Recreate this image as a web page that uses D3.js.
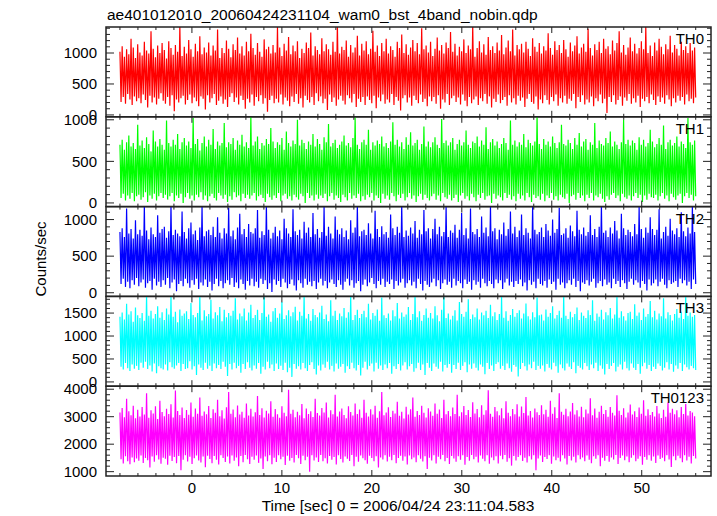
<!DOCTYPE html>
<html><head><meta charset="utf-8">
<script src="https://cdn.jsdelivr.net/npm/d3@7"></script>
<style>body{margin:0;background:#fff}svg{display:block}text{font-family:"Liberation Sans",Arial,Helvetica,sans-serif;fill:#000}</style>
</head><body><svg id="c" width="717" height="516"></svg>
<script>
const title = "ae401012010_20060424231104_wam0_bst_4band_nobin.qdp";
const xLabel = "Time [sec] 0 = 2006/04/24 23:11:04.583";
const yLabel = "Counts/sec";
const bands = ["TH0","TH1","TH2","TH3","TH0123"];
const colors = ["#ff0000","#00ff00","#0000ff","#00ffff","#ff00ff"];
const tStart = -8.0, tEnd = 56.0;

const TH0 = [1020,210,1110,290,940,180,1060,340,980,250,1230,160,1090,300,920,220,1140,270,1010,190,
960,330,1180,240,1040,120,990,310,1350,200,1070,280,930,170,1120,260,1000,350,1160,230,
1050,180,910,290,1190,150,1080,320,970,60,1130,250,1020,200,1440,270,950,310,1100,170,
990,240,1210,330,1060,190,940,280,1150,220,1030,140,1270,300,980,260,1090,90,1010,320,
1170,200,960,270,1120,340,1040,160,1380,230,920,300,1080,180,1000,250,1200,130,1070,290,
930,350,1140,210,1050,280,1250,170,990,310,1110,240,960,100,1180,260,1030,200,1310,330,
1080,150,970,290,1160,220,1020,320,940,180,1220,270,1060,50,1100,240,990,310,1130,190,
1010,260,1420,200,1090,330,950,170,1150,280,1040,230,1260,140,980,300,1120,210,1030,340,
1190,180,920,270,1070,120,1000,310,1170,240,1080,200,1330,290,960,160,1110,350,1050,220,
980,300,1240,190,1030,260,1140,80,1060,330,970,210,1180,280,1020,150,1470,250,990,310,
1100,230,1050,170,1200,320,940,270,1130,200,1010,340,1090,130,1280,260,960,210,1150,290,
1040,160,1190,300,980,240,1070,190,1360,310,1020,110,1120,280,950,220,1160,330,1030,180,
1230,250,990,200,1110,340,1050,160,940,290,1180,230,1080,70,1300,270,1000,320,1140,200,
970,280,1090,150,1210,310,1030,240,1160,190,980,330,1400,210,1060,260,1120,140,1010,300,
1180,220,950,290,1070,180,1250,320,1040,100,1130,250,990,200,1170,340,1080,160,1340,270,
1020,310,1150,210,960,280,1100,170,1030,330,1220,230,1000,140,1120,290,1060,190,1450,250,
940,300,1080,160,1190,270,1010,220,1140,340,970,180,1260,300,1050,120,1110,260,1000,210,
1170,330,1040,190,1290,240,980,290,1090,150,1200,320,1030,200,1380,270,960,170,1130,310,
1060,230,1150,280,1010,130,1180,260,1070,340,950,210,1240,180,1100,300,1020,90,1160,250,
990,190,1110,320,1040,240,1320,170,1080,290,970,220,1190,330,1050,150,1130,270,1000,200,
1210,310,1060,180,940,260,1170,230,1030,340,1120,110,1270,290,990,210,1090,320,1150,170,
1020,250,1390,200,1080,300,960,140,1140,270,1050,220,1180,330,1000,190,1230,260,1070,30,
1110,290,980,210,1200,320,1040,170,1160,240,1350,300,1010,150,1130,280,970,230,1090,340,
1250,180,1030,270,1150,200,990,310,1080,130,1190,260,1060,220,1430,290,1000,190,1120,330,
950,240,1170,160,1040,300,1230,210,1100,280,980,180,1140,320,1060,250,1280,140,1010,270,
1130,200,1070,310,960,230,1180,290,1050,170,1110,330,1000,220,1160,260,1040,190,1090,280];

const TH1 = [700,60,760,110,640,30,730,90,810,50,680,120,720,20,650,80,940,100,690,40,
750,70,660,130,790,10,710,90,620,50,870,110,740,30,680,80,770,120,700,60,
640,100,990,40,720,80,680,120,760,20,700,90,830,60,650,110,730,0,780,70,
690,120,740,50,660,90,1020,30,710,100,770,70,630,130,720,40,800,90,680,20,
760,80,700,110,890,60,650,30,740,120,690,90,720,50,960,100,670,10,730,80,
710,40,780,130,640,70,750,90,700,20,820,110,680,60,730,100,660,50,1040,90,
690,120,740,30,800,80,650,100,720,60,690,10,770,110,710,70,900,40,740,90,
660,60,730,120,700,20,780,90,640,110,860,50,720,80,680,30,750,100,710,70,
1000,40,690,110,760,80,720,0,650,120,740,60,700,90,830,30,680,100,770,50,
710,90,640,60,790,110,730,20,950,80,680,120,720,40,760,90,660,60,700,10,
740,100,810,70,690,30,720,120,670,50,780,90,1030,60,700,110,650,20,730,80,
760,40,700,100,880,70,640,120,730,30,690,90,750,60,710,0,800,110,680,50,
720,90,660,40,740,120,970,80,700,20,760,100,680,60,730,110,650,30,790,70,
700,120,850,50,690,90,720,10,760,80,640,110,710,40,920,100,680,60,740,30,
670,80,730,110,790,40,700,90,660,20,1010,120,720,70,750,50,690,100,730,30,
780,60,640,100,710,10,760,90,690,120,730,50,870,80,700,30,660,110,740,70,
720,20,800,100,680,60,750,120,700,40,910,80,650,90,730,0,770,110,690,50,
740,90,660,70,710,30,780,120,720,60,640,100,990,40,700,80,750,20,680,110,
730,50,700,90,830,30,670,120,760,70,720,10,690,100,740,60,1050,80,710,40,
650,110,770,20,700,90,740,60,680,120,800,40,720,80,660,30,730,100,940,70,
710,50,690,110,760,0,720,80,650,100,780,40,700,120,840,60,680,90,740,20,
770,100,640,60,730,120,700,30,960,90,660,70,750,110,710,50,690,10,780,80,
720,40,860,100,680,120,740,60,700,90,650,20,730,110,1000,70,710,50,760,90,
690,30,750,80,720,120,640,60,790,100,700,10,760,90,680,40,720,110,880,70,
740,60,670,100,710,30,780,80,700,120,930,50,650,90,730,20,760,110,690,70,
720,40,800,90,680,110,740,0,710,80,660,120,1020,60,730,100,700,30,750,80];

const TH2 = [830,120,880,190,760,80,1150,150,810,60,870,170,740,110,990,200,800,90,860,140,
780,180,1190,70,850,130,730,160,890,40,800,190,760,100,1060,150,820,80,870,170,
900,110,750,200,840,60,1200,140,790,180,860,20,810,120,770,160,1110,90,830,190,
740,130,880,70,960,170,800,110,850,190,720,50,890,140,1180,100,770,180,840,80,
860,150,790,30,900,120,760,190,1030,90,820,160,740,60,880,130,810,170,1160,110,
770,200,850,80,730,140,890,60,1080,180,800,120,870,40,760,160,940,100,830,190,
810,90,880,150,1130,70,750,190,840,120,790,170,1200,50,860,130,740,10,820,180,
900,110,770,160,850,80,730,190,1010,140,880,60,810,120,760,180,1140,100,840,30,
790,170,860,130,740,70,970,190,820,110,890,150,760,90,1090,160,800,50,870,140,
750,190,830,100,1170,160,780,60,900,140,810,180,740,120,1040,80,860,170,800,110,
880,40,760,150,850,190,730,100,990,170,820,70,890,130,1190,160,770,20,840,110,
860,180,790,90,950,140,810,200,740,120,1120,60,870,160,760,110,910,190,800,80,
830,150,750,120,1070,180,880,50,790,160,900,100,820,140,1200,190,760,70,850,130,
780,170,890,100,810,150,980,60,750,190,860,120,800,30,1130,160,840,110,880,80,
740,140,870,190,1010,90,800,170,900,50,770,130,830,180,1180,110,760,150,850,70,
820,190,930,100,750,160,860,130,1090,60,790,180,880,120,740,150,1150,40,830,170,
800,110,870,150,760,70,1040,190,820,130,890,90,770,160,1180,120,840,60,880,180,
730,130,860,170,800,50,960,140,780,190,870,100,1110,150,810,80,900,160,760,120,
850,180,1070,90,790,140,880,30,820,170,740,110,1190,150,860,60,800,190,830,120,
890,100,760,160,940,70,850,180,780,120,1000,150,820,40,870,190,1160,110,790,140,
810,60,880,130,750,170,920,110,840,190,770,80,1120,160,860,20,800,140,890,120,
780,170,830,100,1060,150,790,190,870,70,760,130,900,160,1200,90,820,180,850,110,
760,140,890,60,810,190,980,120,850,160,740,80,1080,170,880,130,790,50,860,150,
830,190,770,110,940,170,800,140,1170,70,870,160,750,120,890,30,820,180,1030,100,
870,130,790,180,860,90,1140,150,740,190,830,110,900,60,780,170,1010,120,850,140,
800,160,880,80,760,190,1100,130,840,170,770,100,890,150,810,50,1190,180,830,120];

const TH3 = [1420,330,1510,270,1360,410,1700,300,1470,240,1540,380,1310,290,1620,350,1450,260,1390,420,
1500,310,1330,440,1880,280,1440,360,1550,230,1380,400,1480,190,1650,340,1400,300,1520,270,
1350,380,1600,250,1470,430,1850,320,1420,290,1530,360,1300,410,1580,240,1440,390,1490,280,
1540,300,1370,450,1720,270,1460,340,1410,150,1500,380,1900,310,1340,260,1560,420,1430,290,
1480,350,1790,240,1380,400,1520,300,1450,370,1630,280,1320,440,1570,330,1410,130,1500,390,
1440,270,1550,420,1820,300,1360,350,1490,200,1430,390,1600,280,1340,430,1510,310,1680,250,
1390,360,1460,290,1570,410,1350,180,1500,330,1870,270,1420,440,1470,300,1310,380,1540,240,
1610,400,1400,280,1490,350,1740,260,1370,420,1450,210,1560,310,1430,110,1520,390,1640,290,
1340,340,1530,270,1440,410,1900,300,1380,240,1480,370,1330,430,1590,280,1460,160,1410,360,
1510,250,1660,380,1370,310,1470,440,1320,270,1780,350,1440,230,1550,400,1350,290,1490,330,
1430,390,1610,200,1400,340,1520,280,1860,420,1350,300,1460,250,1570,370,1390,140,1480,310,
1550,440,1410,270,1700,350,1360,400,1500,230,1440,420,1580,290,1330,360,1840,260,1450,380,
1390,300,1490,410,1340,180,1560,340,1430,280,1720,390,1380,250,1510,360,1420,430,1470,270,
1630,340,1350,390,1480,220,1900,300,1410,420,1540,260,1330,380,1460,150,1600,410,1400,310,
1500,240,1380,400,1650,330,1450,290,1320,440,1570,230,1880,370,1390,310,1490,390,1360,200,
1440,370,1560,280,1340,420,1740,260,1480,350,1420,430,1530,210,1800,380,1370,290,1470,400,
1410,310,1600,250,1360,380,1510,330,1450,170,1550,410,1390,280,1680,360,1430,240,1520,390,
1350,430,1480,290,1870,350,1400,260,1540,400,1330,300,1460,220,1590,370,1420,330,1500,120,
1560,280,1380,410,1490,340,1710,250,1430,380,1360,300,1520,440,1410,260,1840,350,1450,290,
1470,360,1340,230,1580,390,1420,310,1500,270,1650,420,1380,340,1460,200,1550,380,1400,300,
1900,250,1440,400,1370,330,1530,280,1410,430,1480,190,1620,350,1350,310,1510,270,1440,410,
1390,340,1560,260,1460,380,1780,300,1330,420,1490,240,1420,360,1570,290,1360,160,1520,390,
1450,280,1610,350,1380,410,1470,230,1860,330,1400,380,1540,270,1430,440,1340,300,1500,250,
1530,400,1370,310,1690,260,1440,390,1510,180,1350,340,1600,420,1420,290,1480,370,1760,240,
1410,330,1550,280,1360,400,1490,350,1430,250,1820,310,1380,430,1520,270,1460,390,1340,220,
1480,360,1590,290,1400,410,1530,240,1370,380,1880,320,1440,270,1510,350,1420,300,1460,260];

const TH0123 = [3150,1450,3320,1300,2980,1560,3650,1380,3200,1270,3050,1520,3400,1340,2940,1480,3250,1400,3010,1590,
3350,1320,3080,1500,3850,1420,2960,1150,3230,1550,3120,1360,3380,1600,2920,1440,3580,1290,3170,1510,
3020,1470,3290,1250,3100,1580,3450,1390,2970,1530,3950,1310,3210,1570,3060,1050,3330,1430,2950,1600,
3240,1370,3070,1540,3520,1280,3000,1490,3300,1590,3110,1410,3700,1330,3030,1550,3190,1160,3090,1580,
3390,1460,2950,1310,3270,1570,3140,1430,3620,1260,3020,1600,3230,1500,2930,1350,3340,1550,3900,1300,
3110,1590,3260,1400,2980,1520,3410,1200,3080,1570,3180,1340,2960,1610,3480,1450,3040,1280,3290,1540,
3010,1430,3160,1590,3750,1320,3060,1480,3310,1100,2970,1550,3220,1380,3120,1600,3560,1270,3000,1510,
3280,1350,3090,1600,2960,1450,3380,1540,3140,1240,3020,1580,3980,1400,3110,1500,3250,1330,2980,1610,
3180,1490,3050,1280,3460,1580,2940,1420,3300,1540,3100,1000,3200,1600,2990,1410,3650,1520,3130,1350,
3040,1610,3320,1380,3150,1490,3520,1300,2970,1570,3230,1430,3090,1530,3800,1260,3010,1600,3190,1460,
3300,1330,3060,1550,2940,1470,3380,1390,3170,1610,3040,1200,3480,1540,3100,1360,3260,1590,2960,1490,
3620,1420,3140,1290,3010,1580,3270,1500,3080,1380,3400,1560,2960,1150,3200,1520,3900,1440,3050,1600,
3150,1370,3340,1540,2990,1420,3220,1610,3120,1310,3540,1500,3030,1580,3180,1400,2930,1550,3360,1260,
3080,1590,3270,1450,3700,1520,3000,1340,3210,1600,3060,1470,3400,1370,3140,1560,2970,1100,3310,1510,
3190,1410,3030,1600,3480,1300,3110,1540,3260,1450,2950,1610,3620,1380,3090,1500,3210,1280,3020,1570,
3330,1480,3100,1360,3800,1560,3020,1430,3160,1600,3390,1250,3060,1530,3240,1400,2990,1610,3530,1450,
3120,1540,3280,1330,2980,1590,3420,1470,3070,1380,3230,1600,3960,1290,3110,1520,3000,1420,3350,1560,
3200,1300,3050,1580,3310,1450,2940,1610,3560,1360,3140,1490,3020,1220,3280,1570,3090,1410,3450,1530,
3010,1600,3370,1390,3130,1510,3720,1330,3040,1560,3210,1440,2970,1600,3300,1050,3160,1480,3060,1590,
3420,1350,3090,1530,3250,1460,3000,1600,3580,1290,3110,1550,3340,1420,2950,1510,3850,1370,3180,1600,
3070,1480,3290,1260,3020,1570,3190,1410,3500,1540,3080,1330,3230,1600,3010,1450,3360,1520,2980,1380,
3260,1590,3120,1430,3670,1310,3050,1560,3300,1470,2960,1600,3180,1200,3400,1510,3100,1400,3240,1570,
3000,1360,3350,1520,3140,1440,3040,1610,3780,1280,3220,1500,3060,1590,3310,1420,2970,1550,3150,1340,
3440,1510,3080,1600,3200,1380,2990,1470,3330,1560,3110,1250,3600,1530,3030,1430,3270,1600,3060,1400,
3170,1550,3010,1320,3390,1590,3120,1460,2950,1510,3250,1380,3000,1600,3520,1440,3140,1170,3290,1560,
3090,1420,3230,1580,2980,1490,3350,1340,3100,1600,3460,1410,3040,1540,3210,1300,3150,1570,3020,1480];

const series = [TH0, TH1, TH2, TH3, TH0123];
const xDomain = [-9.55, 57.7];
const xMajorTicks = [0, 10, 20, 30, 40, 50];
const xMinorTicks = [-8,-6,-4,-2,2,4,6,8,12,14,16,18,22,24,26,28,32,34,36,38,42,44,46,48,52,54,56];
const yDomains = [[-30,1420],[-44,1036],[-50,1177],[-93,1863],[842,4110]];
const yMajorTicks = [[0,500,1000],[0,500,1000],[0,500,1000],[0,500,1000,1500],[1000,2000,3000,4000]];
const yMinorStep = [100,100,100,100,200];

const svg = d3.select("#c");
const L = 106, R = 711, T = 27, B = 476;
const nP = series.length;
const ph = (B - T) / nP;
const x = d3.scaleLinear().domain(xDomain).range([L, R]);
const frameColor = "#222";

svg.append("text").attr("x", 107).attr("y", 20).style("font-size", "15.5px").text(title);
svg.append("text").attr("x", 398).attr("y", 511).attr("text-anchor", "middle").style("font-size", "15.5px").text(xLabel);
svg.append("text").attr("transform", "translate(46,259) rotate(-90)").attr("text-anchor", "middle").style("font-size", "15px").text(yLabel);

series.forEach((vals, i) => {
  const top = T + i * ph, bot = T + (i + 1) * ph;
  const y = d3.scaleLinear().domain(yDomains[i]).range([bot, top]);
  const g = svg.append("g");
  const cid = "clip" + i;
  svg.append("clipPath").attr("id", cid).append("rect").attr("x", L).attr("y", top).attr("width", R - L).attr("height", bot - top);
  const step = (tEnd - tStart) / (vals.length - 1);
  const data = vals.map((v, k) => [tStart + k * step, v]);
  g.append("path").datum(data).attr("clip-path", `url(#${cid})`)
    .attr("fill", "none").attr("stroke", colors[i]).attr("stroke-width", 1.2)
    .attr("stroke-linejoin", "miter").attr("stroke-miterlimit", 1)
    .attr("d", d3.line().x(d => x(d[0])).y(d => y(d[1])));
  const [d0, d1] = yDomains[i];
  const st = yMinorStep[i];
  const minor = d3.range(Math.ceil(d0 / st) * st, d1, st).filter(v => !yMajorTicks[i].includes(v));
  const tk = g.append("g").attr("stroke", frameColor).attr("stroke-width", 1);
  minor.forEach(v => {
    tk.append("line").attr("x1", L).attr("x2", L + 4).attr("y1", y(v)).attr("y2", y(v));
    tk.append("line").attr("x1", R).attr("x2", R - 4).attr("y1", y(v)).attr("y2", y(v));
  });
  yMajorTicks[i].forEach(v => {
    tk.append("line").attr("x1", L).attr("x2", L + 8).attr("y1", y(v)).attr("y2", y(v));
    tk.append("line").attr("x1", R).attr("x2", R - 8).attr("y1", y(v)).attr("y2", y(v));
    g.append("text").attr("x", 97).attr("y", y(v)).attr("dy", "0.35em").attr("text-anchor", "end").style("font-size", "15px").text(v);
  });
  xMinorTicks.forEach(v => {
    tk.append("line").attr("x1", x(v)).attr("x2", x(v)).attr("y1", bot).attr("y2", bot - 3);
    tk.append("line").attr("x1", x(v)).attr("x2", x(v)).attr("y1", top).attr("y2", top + 3);
  });
  xMajorTicks.forEach(v => {
    tk.append("line").attr("x1", x(v)).attr("x2", x(v)).attr("y1", bot).attr("y2", bot - 6);
    tk.append("line").attr("x1", x(v)).attr("x2", x(v)).attr("y1", top).attr("y2", top + 6);
  });
  g.append("rect").attr("x", L).attr("y", top).attr("width", R - L).attr("height", bot - top)
    .attr("fill", "none").attr("stroke", frameColor).attr("stroke-width", 1.5);
  g.append("text").attr("x", 704).attr("y", top + 17).attr("text-anchor", "end").style("font-size", "15px").text(bands[i]);
});

xMajorTicks.forEach(v => {
  svg.append("text").attr("x", x(v)).attr("y", 493).attr("text-anchor", "middle").style("font-size", "15px").text(v);
});
</script></body></html>
